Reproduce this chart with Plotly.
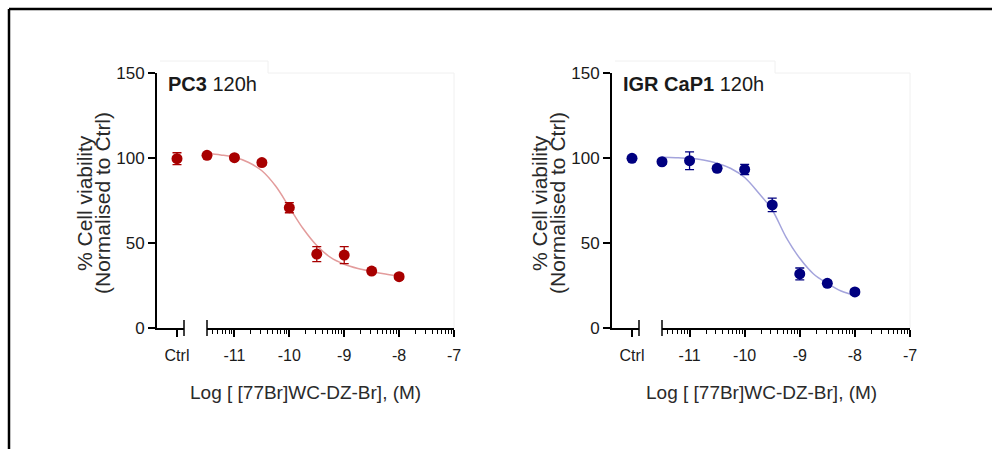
import plotly.graph_objects as go
import numpy as np

# ---------------- data ----------------
log_conc = [-11.5, -11.0, -10.5, -10.0, -9.5, -9.0, -8.5, -8.0]
ctrl_label = ["Ctrl"]

pc3_ctrl = [99.6]
pc3_ctrl_err = [3.5]
pc3_vals = [101.6, 100.2, 97.3, 70.8, 43.5, 42.9, 33.5, 30.2]
pc3_err = [1.5, 1.5, 1.5, 3.0, 4.4, 5.0, 1.5, 1.5]

igr_ctrl = [99.8]
igr_ctrl_err = [1.2]
igr_vals = [97.8, 98.4, 93.9, 93.3, 72.4, 31.8, 26.3, 21.2]
igr_err = [1.5, 5.2, 1.5, 3.0, 4.0, 3.5, 1.5, 1.5]

# fitted curves
curve_x = [-11.5, -11.25, -11.0, -10.75, -10.5, -10.25, -10.0, -9.75, -9.5,
           -9.25, -9.0, -8.75, -8.5, -8.25, -8.0]
pc3_curve = [102.8, 101.8, 100.4, 97.5, 92.5, 83.5, 71.0, 58.5, 48.5,
             41.5, 37.5, 35.0, 33.3, 31.8, 30.6]
igr_curve = [100.4, 100.2, 99.8, 98.8, 96.9, 93.8, 88.5, 79.5, 69.4,
             53.5, 41.0, 31.8, 26.3, 21.8, 19.2]

y_ticks = [0, 50, 100, 150]
x_major = [-11, -10, -9, -8, -7]
x_major_text = ["-11", "-10", "-9", "-8", "-7"]

titles = [("PC3", " 120h"), ("IGR CaP1", " 120h")]
y_title = ["% Cell viability", "(Normalised to Ctrl)"]
x_title = "Log [ [77Br]WC-DZ-Br], (M)"

# ---------------- styling / geometry ----------------
W, H = 992, 449
RED, RED_CURVE = "#a80000", "#e39c9c"
BLUE, BLUE_CURVE = "#000080", "#a4a4dc"
FONT = "Liberation Sans, Arial, sans-serif"
TXT = "#1a1a1a"

def px(x):
    return x / W

def py(y):
    return 1 - y / H

Y_TOP, Y_BOT = 73, 328
panels = [
    dict(yaxis_x=157, ctrl_end=184, main_start=207, main_end=454, title_end=268),
    dict(yaxis_x=612, ctrl_end=639, main_start=662, main_end=910, title_end=775),
]

minor_vals = []
for d in range(-12, -7):
    for k in range(2, 10):
        v = d + np.log10(k)
        if -11.5 < v < -7:
            minor_vals.append(float(v))

fig = go.Figure()

series = [
    (pc3_ctrl, pc3_ctrl_err, pc3_vals, pc3_err, pc3_curve, RED, RED_CURVE),
    (igr_ctrl, igr_ctrl_err, igr_vals, igr_err, igr_curve, BLUE, BLUE_CURVE),
]

layout = dict(
    width=W, height=H,
    margin=dict(l=0, r=0, t=0, b=0, pad=0, autoexpand=False),
    paper_bgcolor="white", plot_bgcolor="white",
    showlegend=False,
    font=dict(family=FONT, color=TXT),
)
shapes = []
annotations = []

for i, (p, s) in enumerate(zip(panels, series)):
    cx = "x" if i == 0 else "x3"
    mx = "x2" if i == 0 else "x4"
    yy = "y" if i == 0 else "y2"
    cxn = "xaxis" if i == 0 else "xaxis3"
    mxn = "xaxis2" if i == 0 else "xaxis4"
    yyn = "yaxis" if i == 0 else "yaxis2"
    ctrl, ctrl_err, vals, err, curve, col, ccol = s

    # faint frame around title + plot area
    x0, x1, xt = px(p["yaxis_x"] + 3), px(p["main_end"]), px(p["title_end"])
    shapes.append(dict(
        type="path", xref="paper", yref="paper", layer="below",
        path=f"M {x0},{py(61)} L {xt},{py(61)} L {xt},{py(73)} L {x1},{py(73)} L {x1},{py(Y_BOT)}",
        line=dict(color="#f0f0f0", width=1)))

    # fitted curve
    fig.add_trace(go.Scatter(x=curve_x, y=curve, xaxis=mx, yaxis=yy, mode="lines",
                             line=dict(color=ccol, width=1.5, shape="spline"),
                             cliponaxis=False, hoverinfo="skip"))
    # points
    fig.add_trace(go.Scatter(x=log_conc, y=vals, xaxis=mx, yaxis=yy, mode="markers",
                             marker=dict(color=col, size=11),
                             error_y=dict(type="data", array=err, color=col,
                                          thickness=1.3, width=4.5),
                             cliponaxis=False))
    fig.add_trace(go.Scatter(x=ctrl_label, y=ctrl, xaxis=cx, yaxis=yy, mode="markers",
                             marker=dict(color=col, size=11),
                             error_y=dict(type="data", array=ctrl_err, color=col,
                                          thickness=1.3, width=4.5),
                             cliponaxis=False))

    ctrl_w = p["ctrl_end"] - p["yaxis_x"]
    ctrl_pos = 20
    layout[cxn] = dict(
        domain=[px(p["yaxis_x"]), px(p["ctrl_end"])], anchor=yy,
        type="category",
        range=[-ctrl_pos / 7, (ctrl_w - ctrl_pos) / 7],
        showline=True, linecolor="black", linewidth=2,
        ticks="outside", ticklen=7, tickwidth=1.5, tickcolor="black",
        ticklabelstandoff=5,
        showgrid=False, zeroline=False,
        tickfont=dict(size=16, family=FONT, color=TXT),
        fixedrange=True,
    )
    layout[mxn] = dict(
        domain=[px(p["main_start"]), px(p["main_end"])], anchor=yy,
        range=[-11.5, -7],
        showline=True, linecolor="black", linewidth=2,
        tickmode="array", tickvals=x_major, ticktext=x_major_text,
        ticks="outside", ticklen=7, tickwidth=1.5, tickcolor="black",
        ticklabelstandoff=5,
        minor=dict(tickmode="array", tickvals=minor_vals, ticks="outside",
                   ticklen=4, tickwidth=1.2, tickcolor="black", showgrid=False),
        showgrid=False, zeroline=False,
        tickfont=dict(size=16, family=FONT, color=TXT),
    )
    layout[yyn] = dict(
        domain=[py(Y_BOT), py(Y_TOP)], anchor=cx,
        range=[0, 150],
        tickmode="array", tickvals=y_ticks,
        showline=True, linecolor="black", linewidth=2,
        ticks="outside", ticklen=7, tickwidth=1.5, tickcolor="black",
        showgrid=False, zeroline=False,
        tickfont=dict(size=17, family=FONT, color=TXT),
    )

    # axis break marks
    for ref, xv in ((cx + " domain", 1), (mx + " domain", 0)):
        shapes.append(dict(type="line", xref=ref, yref=yy + " domain",
                           x0=xv, x1=xv, y0=-8 / 255, y1=8 / 255,
                           line=dict(color="black", width=1.5)))

    # panel title
    annotations.append(dict(
        xref="paper", yref="paper", x=px(p["yaxis_x"] + 9), y=py(84),
        xanchor="left", yanchor="middle", showarrow=False,
        text="<b>" + titles[i][0] + "</b>" + titles[i][1],
        font=dict(size=20, family=FONT, color=TXT)))
    # y title (two lines)
    for j, (t, xo) in enumerate(zip(y_title, (72, 54))):
        annotations.append(dict(
            xref="paper", yref="paper", x=px(p["yaxis_x"] - xo), y=py(203),
            xanchor="center", yanchor="middle", showarrow=False, textangle=-90,
            text=t, font=dict(size=21, family=FONT, color="#2a2a2a")))
    # x title
    annotations.append(dict(
        xref="paper", yref="paper", x=px((p["yaxis_x"] + p["main_end"]) / 2), y=py(392),
        xanchor="center", yanchor="middle", showarrow=False,
        text=x_title, font=dict(size=19, family=FONT, color="#2a2a2a")))

# outer frame (top and left edges)
shapes.append(dict(type="line", xref="paper", yref="paper", x0=px(9), x1=1.0,
                   y0=py(9), y1=py(9), line=dict(color="black", width=2.5)))
shapes.append(dict(type="line", xref="paper", yref="paper", x0=px(9), x1=px(9),
                   y0=py(9), y1=0, line=dict(color="black", width=2.5)))

layout["shapes"] = shapes
layout["annotations"] = annotations
fig.update_layout(**layout)

fig.write_html("out.html", config={"displayModeBar": False},
               post_script="document.body.style.margin='0px';document.body.style.overflow='hidden';")
